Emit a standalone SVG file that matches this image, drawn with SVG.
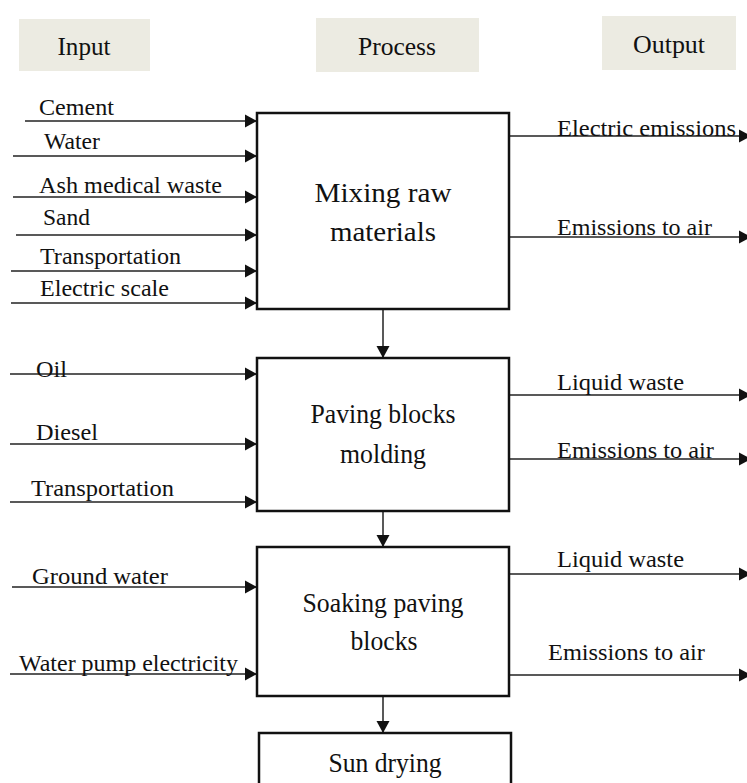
<svg xmlns="http://www.w3.org/2000/svg" width="747" height="783" viewBox="0 0 747 783">
<defs>
<marker id="ah" markerUnits="userSpaceOnUse" markerWidth="13" markerHeight="14" refX="12" refY="7" orient="auto" viewBox="0 0 13 14">
<path d="M0,0.5 L12,7 L0,13.5 z" fill="#111"/>
</marker>
<style>
.hdr{fill:#ECEBE2;stroke:none}
.ht{font-family:"Liberation Serif","Times New Roman",serif;font-size:25px;fill:#111;text-anchor:middle}
.lb{font-family:"Liberation Serif","Times New Roman",serif;font-size:23px;fill:#111}
.bt{font-family:"Liberation Serif","Times New Roman",serif;font-size:28px;fill:#111;text-anchor:middle}
.box{fill:#fff;stroke:#111;stroke-width:2.5}
.cn line{stroke:#222;stroke-width:1.5;marker-end:url(#ah)}
</style>
</defs>
<rect width="747" height="783" fill="#fff"/>

<g id="headers">
<rect class="hdr" x="19" y="19" width="131" height="52"/>
<text class="ht" x="84" y="55" textLength="53" lengthAdjust="spacingAndGlyphs">Input</text>
<rect class="hdr" x="316" y="18" width="163" height="54"/>
<text class="ht" x="397" y="55" textLength="78" lengthAdjust="spacingAndGlyphs">Process</text>
<rect class="hdr" x="602" y="16" width="134" height="54"/>
<text class="ht" x="669" y="53" textLength="72" lengthAdjust="spacingAndGlyphs">Output</text>
</g>

<g id="connectors" class="cn">
<line x1="25" y1="121" x2="257" y2="121"/>
<line x1="13" y1="156" x2="257" y2="156"/>
<line x1="13" y1="197" x2="257" y2="197"/>
<line x1="16" y1="235" x2="257" y2="235"/>
<line x1="11" y1="271" x2="257" y2="271"/>
<line x1="11" y1="303" x2="257" y2="303"/>
<line x1="509" y1="136" x2="751" y2="136"/>
<line x1="509" y1="237" x2="751" y2="237"/>
<line x1="383" y1="310" x2="383" y2="358"/>
<line x1="10" y1="374" x2="257" y2="374"/>
<line x1="10" y1="444" x2="257" y2="444"/>
<line x1="10" y1="502" x2="257" y2="502"/>
<line x1="509" y1="395" x2="751" y2="395"/>
<line x1="509" y1="459" x2="751" y2="459"/>
<line x1="383" y1="511" x2="383" y2="547"/>
<line x1="12" y1="587" x2="257" y2="587"/>
<line x1="10" y1="674" x2="257" y2="674"/>
<line x1="509" y1="574" x2="751" y2="574"/>
<line x1="509" y1="675" x2="751" y2="675"/>
<line x1="383" y1="696" x2="383" y2="733"/>
</g>

<g id="labels">
<text class="lb" x="39" y="115" textLength="75" lengthAdjust="spacingAndGlyphs">Cement</text>
<text class="lb" x="44" y="149" textLength="56" lengthAdjust="spacingAndGlyphs">Water</text>
<text class="lb" x="39" y="193" textLength="183" lengthAdjust="spacingAndGlyphs">Ash medical waste</text>
<text class="lb" x="43" y="225" textLength="47" lengthAdjust="spacingAndGlyphs">Sand</text>
<text class="lb" x="40" y="264" textLength="141" lengthAdjust="spacingAndGlyphs">Transportation</text>
<text class="lb" x="40" y="296" textLength="129" lengthAdjust="spacingAndGlyphs">Electric scale</text>
<text class="lb" x="557" y="136" textLength="179" lengthAdjust="spacingAndGlyphs">Electric emissions</text>
<text class="lb" x="557" y="235" textLength="155" lengthAdjust="spacingAndGlyphs">Emissions to air</text>
<text class="lb" x="36" y="377" textLength="31" lengthAdjust="spacingAndGlyphs">Oil</text>
<text class="lb" x="36" y="440" textLength="62" lengthAdjust="spacingAndGlyphs">Diesel</text>
<text class="lb" x="31" y="496" textLength="143" lengthAdjust="spacingAndGlyphs">Transportation</text>
<text class="lb" x="557" y="390" textLength="127" lengthAdjust="spacingAndGlyphs">Liquid waste</text>
<text class="lb" x="557" y="458" textLength="157" lengthAdjust="spacingAndGlyphs">Emissions to air</text>
<text class="lb" x="32" y="584" textLength="136" lengthAdjust="spacingAndGlyphs">Ground water</text>
<text class="lb" x="19" y="671" textLength="219" lengthAdjust="spacingAndGlyphs">Water pump electricity</text>
<text class="lb" x="557" y="567" textLength="127" lengthAdjust="spacingAndGlyphs">Liquid waste</text>
<text class="lb" x="548" y="660" textLength="157" lengthAdjust="spacingAndGlyphs">Emissions to air</text>
</g>

<g id="mixing">
<rect class="box" x="257" y="113" width="252" height="196"/>
<text class="bt" x="383" y="202" textLength="137" lengthAdjust="spacingAndGlyphs">Mixing raw</text>
<text class="bt" x="383" y="241" textLength="106" lengthAdjust="spacingAndGlyphs">materials</text>
</g>

<g id="molding">
<rect class="box" x="257" y="358" width="252" height="153"/>
<text class="bt" x="383" y="423" textLength="145" lengthAdjust="spacingAndGlyphs">Paving blocks</text>
<text class="bt" x="383" y="463" textLength="86" lengthAdjust="spacingAndGlyphs">molding</text>
</g>

<g id="soaking">
<rect class="box" x="257" y="547" width="252" height="149"/>
<text class="bt" x="383" y="612" textLength="161" lengthAdjust="spacingAndGlyphs">Soaking paving</text>
<text class="bt" x="384" y="650" textLength="67" lengthAdjust="spacingAndGlyphs">blocks</text>
</g>

<g id="drying">
<rect class="box" x="259" y="733" width="252" height="70"/>
<text class="bt" x="385" y="772" textLength="113" lengthAdjust="spacingAndGlyphs">Sun drying</text>
</g>
</svg>
